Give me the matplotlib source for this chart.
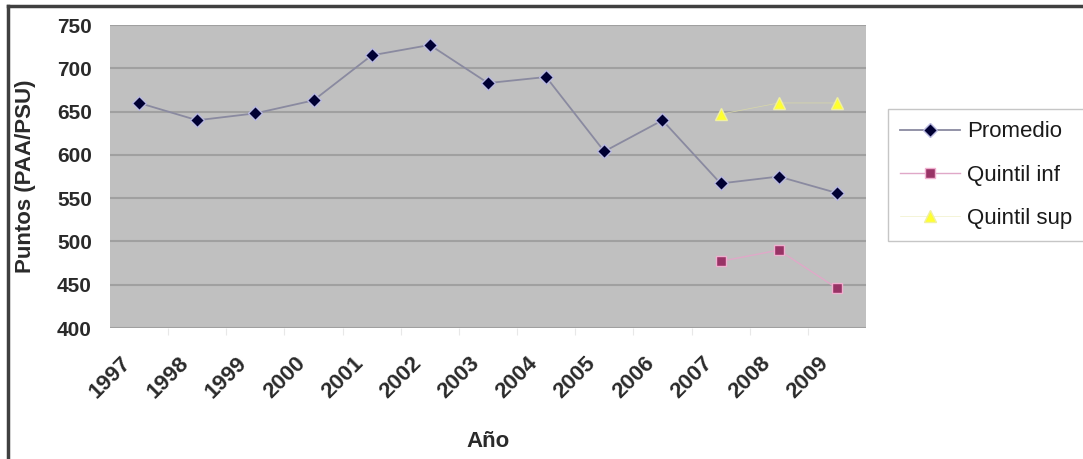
import matplotlib.pyplot as plt
import matplotlib.transforms as mtrans
from matplotlib.lines import Line2D

plt.rcParams['font.family'] = ['Liberation Sans', 'DejaVu Sans']

# Puntajes promedio por año
years = ['1997', '1998', '1999', '2000', '2001', '2002', '2003',
         '2004', '2005', '2006', '2007', '2008', '2009']
promedio = [660, 640, 648, 663, 715, 727, 683, 690, 604, 640, 567, 575, 556]

# Quintiles solo desde 2007
quintil_years = ['2007', '2008', '2009']
quintil_inf = [477, 490, 446]
quintil_sup = [647, 660, 660]

fig = plt.figure(figsize=(10.83, 4.59), dpi=100)
ax = fig.add_axes([0.1016, 0.2854, 0.698, 0.660])

ax.set_facecolor('#c0c0c0')
x = list(range(len(years)))
xq = [years.index(y) for y in quintil_years]

ax.plot(x, promedio, color='#8a8aa0', lw=1.3, marker='D', ms=7,
        mfc='#000033', mec='#b8b8e0', mew=1.0, zorder=3)
ax.plot(xq, quintil_inf, color='#e0a8c8', lw=1.0, marker='s', ms=7,
        mfc='#993366', mec='#f0b0d0', mew=1.0, zorder=3)
ax.plot(xq, quintil_sup, color='#d8d8a8', lw=0.5, marker='^', ms=8,
        mfc='#ffff30', mec='#f0f0a0', mew=1.0, zorder=3)

ax.set_xlim(-0.5, len(years) - 0.5)
ax.set_ylim(400, 750)
ax.set_yticks(range(400, 751, 50))
ax.set_xticks(x)
ax.set_xticks([i + 0.5 for i in x[:-1]], minor=True)
ax.set_xticklabels(years, rotation=45, ha='right', va='top',
                   rotation_mode='anchor')
ax.tick_params(axis='both', which='major', length=0)
ax.tick_params(axis='x', which='minor', length=5, width=0.8, color='#e8e8e8')
ax.tick_params(axis='x', pad=18, labelsize=16)
ax.tick_params(axis='y', pad=13, labelsize=15)
shift = mtrans.ScaledTranslation(-19 / 100, 0, fig.dpi_scale_trans)
for lab in ax.get_xticklabels():
    lab.set_transform(lab.get_transform() + shift)
for lab in ax.get_xticklabels() + ax.get_yticklabels():
    lab.set_fontweight('bold')
    lab.set_color('#2a2a2a')

ax.yaxis.grid(True, color='#a0a0a0', lw=1.5)
ax.set_axisbelow(True)
for s in ax.spines.values():
    s.set_visible(False)

ax.set_ylabel('Puntos (PAA/PSU)', fontsize=16, fontweight='bold', color='#2a2a2a')
ax.yaxis.set_label_coords(-0.098, 0.5)
ax.set_xlabel('Año', fontsize=16, fontweight='bold', color='#2a2a2a')
ax.xaxis.set_label_coords(0.5, -0.34)

handles = [
    Line2D([], [], color='#8a8aa0', lw=1.3, marker='D', ms=7, mfc='#000033', mec='#b8b8e0'),
    Line2D([], [], color='#e0a8c8', lw=1.0, marker='s', ms=7, mfc='#993366', mec='#f0b0d0'),
    Line2D([], [], color='#f0f0c8', lw=0.5, marker='^', ms=8, mfc='#ffff30', mec='#f0f0a0'),
]
leg = fig.legend(handles, ['Promedio', 'Quintil inf', 'Quintil sup'],
                 loc='upper left', bbox_to_anchor=(0.8199, 0.762),
                 borderaxespad=0, fontsize=16, frameon=True, fancybox=False,
                 handlelength=2.7, handletextpad=0.3, labelspacing=1.0,
                 borderpad=0.55)
leg.get_frame().set_edgecolor('#b8b8b8')
leg.get_frame().set_linewidth(1.0)
for t in leg.get_texts():
    t.set_color('#1a1a1a')

# borde exterior (arriba e izquierda)
fig.add_artist(Line2D([0.0075, 1.0], [0.987, 0.987], color='#404040', lw=2.5))
fig.add_artist(Line2D([0.0075, 0.0075], [0.0, 0.987], color='#404040', lw=2.5))

fig.savefig('out.png', dpi=100)
